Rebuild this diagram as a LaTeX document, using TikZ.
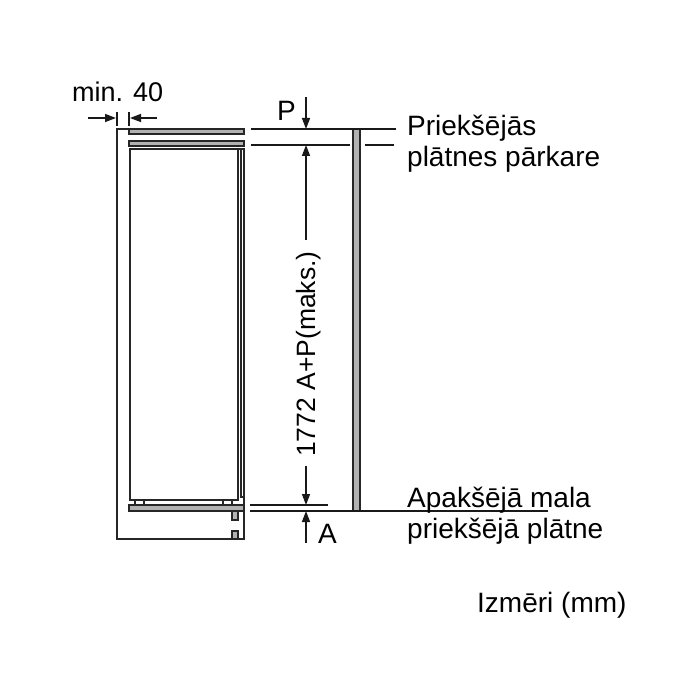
\documentclass[tikz,border=0pt]{standalone}
\usepackage{fontspec}
\setmainfont{Liberation Sans}
\usetikzlibrary{arrows.meta}

\begin{document}
\begin{tikzpicture}[x=1pt,y=-1pt,
        part/.style={line width=1.8pt,draw=black!85},
        panel/.style={part,fill=black!30},
        dimline/.style={line width=1.5pt,draw=black!90},
        dimarrow/.style={line width=1.5pt,draw=black!90,-{Triangle[length=11pt,width=8pt]}},
        label/.style={inner sep=0pt,anchor=base west,font=\fontsize{28}{28}\selectfont}]
            \useasboundingbox (0,0) rectangle (700,700);
            % cabinet
            \draw[part] (129,129) -- (117,129) -- (117,539) -- (244,539) -- (244,511);
            \draw[part] (130,149) rectangle (238,500);
            \draw[part] (238,149) -- (244,149) -- (244,505);
            \draw[part] (241,149) -- (241,497) -- (244,497);
            \draw[part] (135,500) -- (135,505);
            \draw[part] (144,500) -- (144,505);
            \draw[part] (223,500) -- (223,505);
            \draw[part] (232,500) -- (232,505);
            % grey parts
            \draw[panel] (129,129) rectangle (244,134);
            \draw[panel] (129,141) rectangle (244,146);
            \draw[panel] (129,505) rectangle (244,511);
            \draw[panel] (232,511) rectangle (238,520);
            \draw[panel] (232,531) rectangle (238,539);
            \draw[panel] (353,129) rectangle (360,511);
            % extension lines
            \coordinate (ptop) at (306,129);
            \coordinate (pbot) at (306,145);
            \coordinate (atop) at (306,505);
            \coordinate (abot) at (306,511);
            \draw[dimline] (250.5,129) -- (ptop) -- (395.5,129);
            \draw[dimline] (250.5,145) -- (pbot) -- (350,145);
            \draw[dimline] (364.5,145) -- (394,145);
            \draw[dimline] (249.5,505) -- (atop) -- (327.5,505);
            \draw[dimline] (249.5,511) -- (abot) -- (548,511);
            \draw[dimline] (117,112) -- (117,126);
            \draw[dimline] (129,112) -- (129,126);
            % arrows
            \coordinate (pstart) at (306,97);
            \coordinate (astart) at (306,543);
            \coordinate (hgapa) at (306,240);
            \coordinate (hgapb) at (306,466);
            \draw[dimarrow] (pstart) -- (ptop);
            \draw[dimarrow] (astart) -- (abot);
            \draw[dimarrow] (hgapa) -- (pbot);
            \draw[dimarrow] (hgapb) -- (atop);
            \coordinate (minl) at (88,118);
            \coordinate (minla) at (116,118);
            \coordinate (minr) at (157,118);
            \coordinate (minra) at (130,118);
            \draw[dimarrow] (minl) -- (minla);
            \draw[dimarrow] (minr) -- (minra);
            % labels
            \node[label,font=\fontsize{27}{27}\selectfont] (minlabel) at (72,102) {min. 40};
            \node[label] (plabel) at (277,121) {P};
            \node[label] (alabel) at (318,543) {A};
            \node[label,rotate=90,font=\fontsize{26.5}{27}\selectfont] (hlabel) at (315,457) {1772 A+P(maks.)};
            \node[label] (frontone) at (407,136) {Priekšējās};
            \node[label] (fronttwo) at (407,167) {plātnes pārkare};
            \node[label] (lowerone) at (407,507) {Apakšējā mala};
            \node[label] (lowertwo) at (407,538) {priekšējā plātne};
            \node[label] (sizes) at (477,612) {Izmēri (mm)};
        \end{tikzpicture}
\end{document}
